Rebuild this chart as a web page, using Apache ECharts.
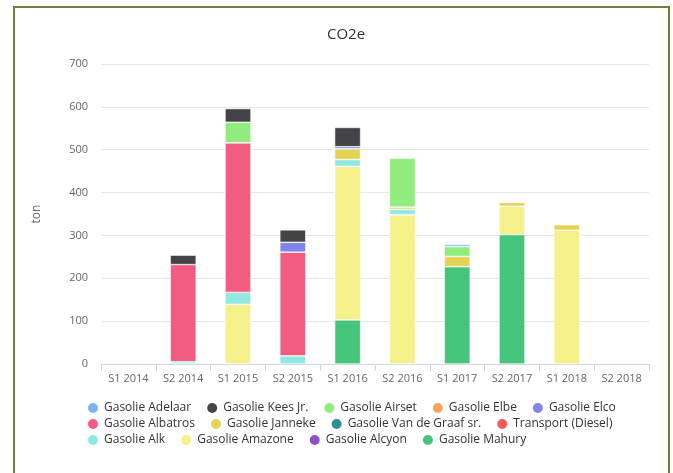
<!DOCTYPE html>
<html>
<head>
<meta charset="utf-8">
<title>CO2e</title>
<script src="https://cdn.jsdelivr.net/npm/echarts@6/dist/echarts.min.js"></script>
<style>
  html, body { margin: 0; padding: 0; background: #fff; }
  #chart { position: absolute; left: 0; top: 0; width: 673px; height: 473px; }
  #frame { position: absolute; left: 13px; top: 6px; width: 653px; height: 480px;
           border: 2px solid #767a3c; pointer-events: none; }
</style>
</head>
<body>
<div id="chart"></div>
<div id="frame"></div>
<script>
// periods on the x axis
const categories = ['S1 2014', 'S2 2014', 'S1 2015', 'S2 2015', 'S1 2016',
  'S2 2016', 'S1 2017', 'S2 2017', 'S1 2018', 'S2 2018']
const yTicks = [0, 100, 200, 300, 400, 500, 600, 700]

// ton per period, null = no data
const adelaar = [null, null, null, null, null, null, 5, null, null, null]
const keesJr = [null, 22, 32, 29, 45, null, null, null, null, null]
const airset = [null, null, 48, null, null, 114, 23, null, null, null]
const elbe = [null, null, null, null, null, null, null, null, null, null]
const elco = [null, null, null, 23, 5, null, null, null, null, null]
const albatros = [null, 227, 349, 242, null, null, null, null, null, null]
const janneke = [null, null, null, null, 25, 5, 24, 9, 13, null]
const vanDeGraaf = [null, null, null, null, null, null, null, null, null, null]
const transport = [null, null, null, null, null, null, null, null, null, null]
const alk = [null, 5, 28, 19, 16, 13, null, null, null, null]
const amazone = [null, null, 139, null, 358, 348, null, 66, 312, null]
const alcyon = [null, null, null, null, null, null, null, null, null, null]
const mahury = [null, null, null, null, 103, null, 227, 302, null, null]

// legend order (top of stack first), same as the reference
const seriesDefs = [
  { name: 'Gasolie Adelaar', data: adelaar, color: '#7cb5ec' },
  { name: 'Gasolie Kees Jr.', data: keesJr, color: '#434348' },
  { name: 'Gasolie Airset', data: airset, color: '#90ed7d' },
  { name: 'Gasolie Elbe', data: elbe, color: '#f7a35c' },
  { name: 'Gasolie Elco', data: elco, color: '#8085e9' },
  { name: 'Gasolie Albatros', data: albatros, color: '#f15c80' },
  { name: 'Gasolie Janneke', data: janneke, color: '#e4d354' },
  { name: 'Gasolie Van de Graaf sr.', data: vanDeGraaf, color: '#2b908f' },
  { name: 'Transport (Diesel)', data: transport, color: '#f45b5b' },
  { name: 'Gasolie Alk', data: alk, color: '#91e8e1' },
  { name: 'Gasolie Amazone', data: amazone, color: '#f5f08a' },
  { name: 'Gasolie Alcyon', data: alcyon, color: '#8e4ec6' },
  { name: 'Gasolie Mahury', data: mahury, color: '#45c47b' }
]

const legendRows = [
  seriesDefs.slice(0, 5).map(s => s.name),
  seriesDefs.slice(5, 9).map(s => s.name),
  seriesDefs.slice(9).map(s => s.name)
]

const font = 'Open Sans'
const chart = echarts.init(document.getElementById('chart'))

chart.setOption({
  animation: false,
  title: {
    text: 'CO2e',
    left: 341,
    textAlign: 'center',
    top: 22,
    textStyle: { fontFamily: font, fontSize: 15, fontWeight: 'normal', color: '#333' }
  },
  legend: legendRows.map((row, i) => ({
    data: row,
    left: 86,
    top: 401 + i * 16,
    padding: 0,
    icon: 'circle',
    itemWidth: 12,
    itemHeight: 12,
    itemGap: 14,
    textStyle: { fontFamily: font, fontSize: 12, color: '#333' }
  })),
  grid: {
    left: 101,
    right: 24,
    top: 64,
    bottom: 109
  },
  xAxis: {
    type: 'category',
    data: categories,
    axisLine: { lineStyle: { color: '#ccd6eb' } },
    axisTick: { show: true, length: 7, lineStyle: { color: '#ccd6eb' } },
    axisLabel: { fontFamily: font, fontSize: 11, color: '#666', margin: 9 }
  },
  yAxis: {
    type: 'value',
    min: yTicks[0],
    max: yTicks[yTicks.length - 1],
    interval: yTicks[1] - yTicks[0],
    name: 'ton',
    nameLocation: 'middle',
    nameGap: 58,
    nameTextStyle: { fontFamily: font, fontSize: 12, color: '#666' },
    axisLine: { show: false },
    axisTick: { show: false },
    axisLabel: { fontFamily: font, fontSize: 11, color: '#666', margin: 13 },
    splitLine: { lineStyle: { color: '#e6e6e6' } }
  },
  // stack bottom-up: last legend entry sits at the bottom
  series: seriesDefs.slice().reverse().map(s => ({
    name: s.name,
    type: 'bar',
    stack: 'co2',
    barWidth: 26,
    data: s.data,
    itemStyle: { color: s.color, borderColor: '#fff', borderWidth: 0.6 }
  }))
})
</script>
</body>
</html>
